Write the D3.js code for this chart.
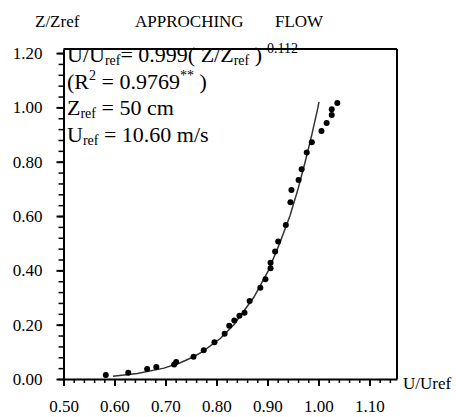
<!DOCTYPE html>
<html>
<head>
<meta charset="utf-8">
<script src="https://cdn.jsdelivr.net/npm/d3@7"></script>
</head>
<body style="margin:0;background:#fff">
<div id="chart"></div>
<script>
// measured points (U/Uref, Z/Zref)
var obsU = [0.583, 0.627, 0.664, 0.682, 0.717, 0.721, 0.755, 0.775, 0.796, 0.816, 0.825, 0.835,
            0.845, 0.855, 0.865, 0.886, 0.896, 0.906, 0.906, 0.915, 0.921, 0.936, 0.945, 0.947,
            0.961, 0.967, 0.977, 0.987, 1.006, 1.016, 1.026, 1.026, 1.037];
var obsZ = [0.015, 0.023, 0.037, 0.044, 0.053, 0.063, 0.082, 0.106, 0.135, 0.167, 0.196, 0.215,
            0.233, 0.244, 0.287, 0.336, 0.367, 0.408, 0.428, 0.469, 0.506, 0.567, 0.651, 0.696,
            0.733, 0.772, 0.834, 0.872, 0.913, 0.943, 0.972, 0.993, 1.016];

// fitted power-law line
var fitU = [0.597, 0.645, 0.697, 0.729, 0.753, 0.772, 0.808, 0.834, 0.873, 0.902, 0.924,
            0.944, 0.960, 0.974, 0.987, 0.999, 1.001];
var fitZ = [0.01, 0.02, 0.04, 0.06, 0.08, 0.10, 0.15, 0.20, 0.30, 0.40, 0.50,
            0.60, 0.70, 0.80, 0.90, 1.00, 1.02];

var xMajor = [0.5, 0.6, 0.7, 0.8, 0.9, 1.0, 1.1];
var yMajor = [0.0, 0.2, 0.4, 0.6, 0.8, 1.0, 1.2];
var xMinor = d3.range(0, 33).map(function(i){ return +(0.5 + i*0.02).toFixed(2); });
var yMinor = d3.range(0, 31).map(function(i){ return +(i*0.04).toFixed(2); });

var FONT = 'Liberation Serif';
var W = 456, H = 417;
var m = {t:49, l:63.5, r:59, b:38};
var w = W - m.l - m.r,
    h = H - m.t - m.b;

var svg = d3.select('#chart').append('svg')
    .attr('width', W).attr('height', H)
    .attr('font-family', FONT);

var x = d3.scaleLinear().domain([0.5, 1.154]).range([0, w]);
var y = d3.scaleLinear().domain([0, 1.215]).range([h, 0]);

var g = svg.append('g').attr('transform', 'translate(' + m.l + ',' + m.t + ')');

// frame (top and right)
g.append('line').attr('x1',0).attr('x2',w).attr('y1',0).attr('y2',0)
  .attr('stroke','#000').attr('stroke-width',2);
g.append('line').attr('x1',w).attr('x2',w).attr('y1',0).attr('y2',h)
  .attr('stroke','#000').attr('stroke-width',2);

function styleAxis(s, domainW, tickW){
  s.attr('font-family', FONT).attr('font-size', 17);
  if(domainW) s.select('.domain').attr('stroke-width', domainW);
  else s.select('.domain').remove();
  s.selectAll('line').attr('stroke-width', tickW);
  s.selectAll('text').attr('fill', '#000');
}

//minor ticks
g.append('g')
  .attr('transform','translate(0,' + h + ')')
  .call(d3.axisBottom(x).tickValues(xMinor).tickSize(4).tickFormat('').tickSizeOuter(0))
  .call(styleAxis, 0, 1.5);
g.append('g')
  .call(d3.axisLeft(y).tickValues(yMinor).tickSize(5).tickFormat('').tickSizeOuter(0))
  .call(styleAxis, 0, 1.5);

//major ticks and labels
g.append('g')
  .attr('transform','translate(0,' + h + ')')
  .call(d3.axisBottom(x).tickValues(xMajor).tickSize(7).tickPadding(14).tickFormat(d3.format('.2f')).tickSizeOuter(0))
  .call(styleAxis, 2, 2);
g.append('g')
  .call(d3.axisLeft(y).tickValues(yMajor).tickSize(7).tickPadding(14).tickFormat(d3.format('.2f')).tickSizeOuter(0))
  .call(styleAxis, 2, 2);

//fit line
var fit = fitU.map(function(u,i){ return [u, fitZ[i]]; });
g.append('path').datum(fit)
  .attr('d', d3.line().x(function(d){return x(d[0]);}).y(function(d){return y(d[1]);}))
  .attr('fill','none').attr('stroke','#333').attr('stroke-width',1.5);

//points
g.selectAll('.pt').data(obsU).enter().append('circle')
  .attr('class','pt')
  .attr('cx', function(d){ return x(d); })
  .attr('cy', function(d,i){ return y(obsZ[i]); })
  .attr('r', 3).attr('fill','#000');

//titles
svg.append('text').attr('x',35).attr('y',27).attr('font-size',17).text('Z/Zref');
svg.append('text').attr('x',135).attr('y',27).attr('font-size',17).text('APPROCHING');
svg.append('text').attr('x',275).attr('y',27).attr('font-size',17).text('FLOW');
svg.append('text').attr('x',m.l + w + 6).attr('y',m.t + h + 10).attr('font-size',17).text('U/Uref');

//equation annotations
function addLine(yy, parts){
  var t = svg.append('text').attr('x',67).attr('y',yy).attr('font-size',22);
  parts.forEach(function(p){
    var s = t.append('tspan').text(p[0]);
    if(p[1] == 'sub') s.attr('font-size',14).attr('dy', 3);
    else if(p[1] == 'sup') s.attr('font-size',14).attr('dy', -9);
    else if(p[1] == 'back') s.attr('dy', p[2]);
  });
  return t;
}
addLine(62, [['U/U'],['ref','sub'],['= 0.999( Z/Z','back',-3],['ref','sub'],[' )','back',-3]]);
svg.append('text').attr('x',267).attr('y',53).attr('font-size',14).text('0.112');
addLine(89, [['(R'],['2','sup'],[' = 0.9769','back',9],['**','sup'],[' )','back',9]]);
addLine(115, [['Z'],['ref','sub'],[' = 50 cm','back',-3]]);
addLine(142, [['U'],['ref','sub'],[' = 10.60 m/s','back',-3]]);
</script>
</body>
</html>
